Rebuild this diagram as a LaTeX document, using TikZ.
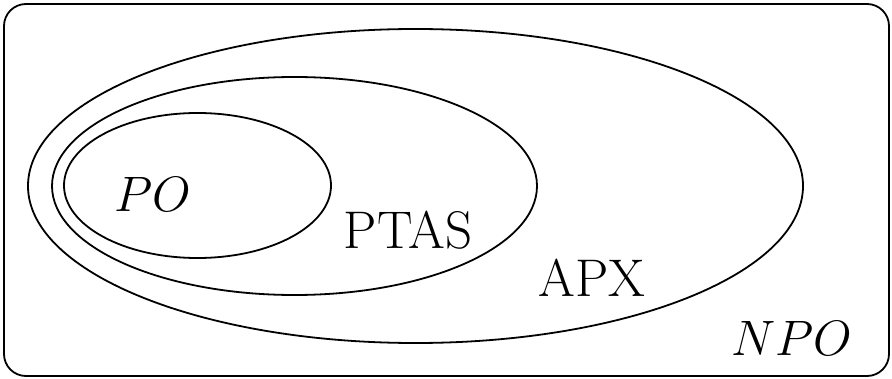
\documentclass[tikz,border=0pt]{standalone}
\usepackage{amsmath}
\usetikzlibrary{positioning}
\tikzset{font=\fontsize{26.5}{32}\selectfont}

\begin{document}
\begin{tikzpicture}[x=0.5pt, y=-0.5pt, line width=0.9pt]
	\useasboundingbox (0, 0) rectangle (892, 379);
	\tikzstyle{every node}=[align=center, inner sep=1pt]
	% frame for NPO
	\draw [rounded corners=11pt] (4, 4) rectangle (889, 376);

	% nested classes
	\draw (415.5, 186) ellipse [x radius=387.5, y radius=157];
	\draw (294.5, 186) ellipse [x radius=242.5, y radius=109];
	\draw (197.5, 185.5) ellipse [x radius=133.5, y radius=72.5];

	\node (po) at (153, 194) {$PO$};
	\node (ptas) at (408, 230) {PTAS};
	\node (apx) at (592, 278) {APX};
	\node (npo) at (792, 338) {$NPO$};
\end{tikzpicture}
\end{document}
